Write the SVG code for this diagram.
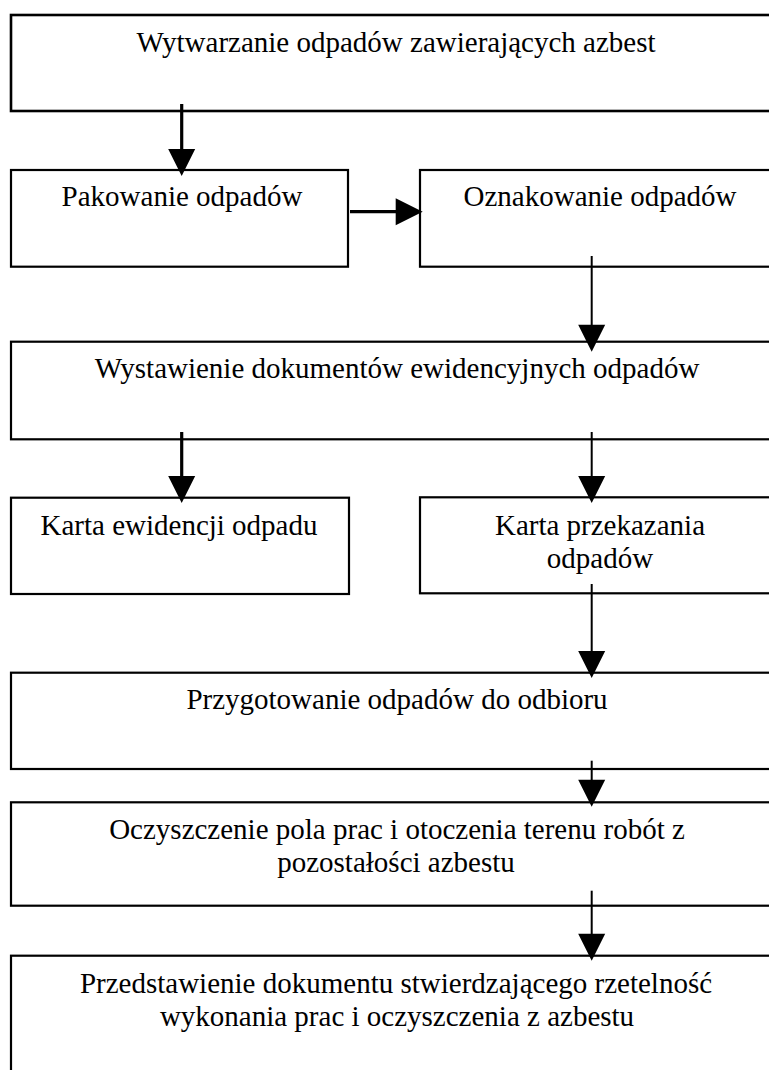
<svg xmlns="http://www.w3.org/2000/svg" width="769" height="1070" viewBox="0 0 769 1070">
<style>
.box{fill:#fff;stroke:#000;stroke-width:2.2}
.box1{fill:#fff;stroke:#000;stroke-width:2.6}
text{font-family:"Liberation Serif","Times New Roman",serif;font-size:29px;fill:#000;text-anchor:middle}
.thick{stroke:#000;stroke-width:3.2;fill:none}
.thin{stroke:#000;stroke-width:2;fill:none}
</style>
<defs>
<path id="ah" d="M0,0 L-13.5,-27 L13.5,-27 Z" fill="#000"/>
</defs>
<rect width="769" height="1070" fill="#fff"/>
<g id="n1"><rect class="box1" x="11" y="15" width="790" height="96"/><text x="396" y="52">Wytwarzanie odpadów zawierających azbest</text></g>
<g id="n2"><rect class="box" x="11" y="170" width="337" height="96.7"/><text x="182" y="206">Pakowanie odpadów</text></g>
<g id="n3"><rect class="box" x="420" y="170" width="380" height="96.7"/><text x="600" y="206">Oznakowanie odpadów</text></g>
<g id="n4"><rect class="box" x="11" y="341.7" width="790" height="97.6"/><text x="397" y="378">Wystawienie dokumentów ewidencyjnych odpadów</text></g>
<g id="n5"><rect class="box" x="11" y="497.7" width="338" height="96.3"/><text x="179" y="535">Karta ewidencji odpadu</text></g>
<g id="n6"><rect class="box" x="420" y="497.3" width="380" height="96"/><text x="600" y="535">Karta przekazania</text><text x="600" y="568">odpadów</text></g>
<g id="n7"><rect class="box" x="11" y="672.7" width="790" height="96.3"/><text x="397" y="709">Przygotowanie odpadów do odbioru</text></g>
<g id="n8"><rect class="box" x="11" y="802.3" width="790" height="103.4"/><text x="397" y="839">Oczyszczenie pola prac i otoczenia terenu robót z</text><text x="396" y="872">pozostałości azbestu</text></g>
<g id="n9"><rect class="box" x="11" y="955.7" width="790" height="140"/><text x="396" y="993">Przedstawienie dokumentu stwierdzającego rzetelność</text><text x="397" y="1026">wykonania prac i oczyszczenia z azbestu</text></g>
<g id="connectors">
<line class="thick" x1="181.7" y1="104" x2="181.7" y2="150"/><use href="#ah" transform="translate(181.7,176)"/>
<line class="thick" x1="350" y1="211.7" x2="396" y2="211.7" stroke-width="3.6"/><use href="#ah" transform="translate(422.7,211.7) rotate(-90)"/>
<line class="thin" x1="591.7" y1="256" x2="591.7" y2="326"/><use href="#ah" transform="translate(591.7,351.7)"/>
<line class="thick" x1="181.7" y1="432" x2="181.7" y2="476"/><use href="#ah" transform="translate(181.7,503)"/>
<line class="thin" x1="591.7" y1="432" x2="591.7" y2="478"/><use href="#ah" transform="translate(591.7,503)"/>
<line class="thin" x1="591.7" y1="584" x2="591.7" y2="654"/><use href="#ah" transform="translate(591.7,678)"/>
<line class="thin" x1="591.7" y1="760.7" x2="591.7" y2="781"/><use href="#ah" transform="translate(591.7,806.7)"/>
<line class="thin" x1="591.7" y1="890.7" x2="591.7" y2="936"/><use href="#ah" transform="translate(591.7,960.7)"/>
</g>
</svg>
